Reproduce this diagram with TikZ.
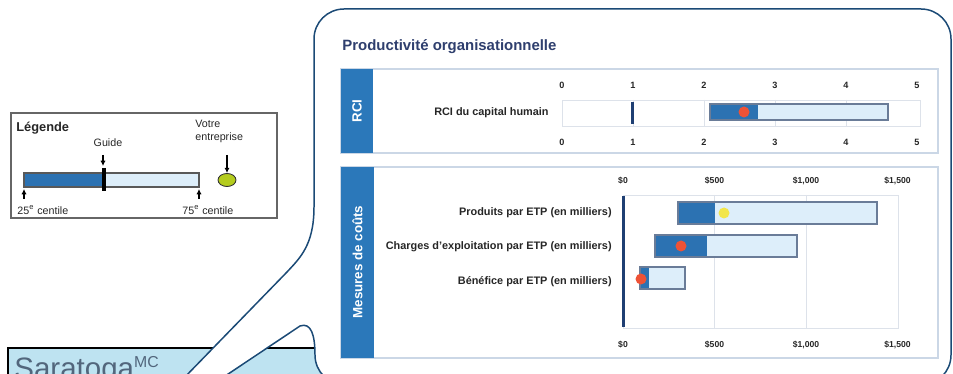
\documentclass[tikz,border=0pt]{standalone}
\usepackage{fontspec}
\setmainfont{Liberation Sans}
\usepackage{tikz}
\usetikzlibrary{arrows.meta,positioning,shapes.geometric}

\definecolor{stripblue}{HTML}{2B78BA}
\definecolor{bardark}{HTML}{2C72B2}
\definecolor{barlight}{HTML}{DDEEFA}
\definecolor{barline}{HTML}{6A7C98}
\definecolor{panelline}{HTML}{CBD7E6}
\definecolor{gridgray}{HTML}{DDE2EA}
\definecolor{navy}{HTML}{1F3F73}
\definecolor{calloutline}{HTML}{1B4A76}
\definecolor{titleblue}{HTML}{2F3F6E}
\definecolor{textdark}{HTML}{262626}
\definecolor{dotred}{HTML}{EE5236}
\definecolor{dotyellow}{HTML}{F2E64A}
\definecolor{dotgreen}{HTML}{B4CC1E}
\definecolor{sarafill}{HTML}{BEE3F1}
\definecolor{saratext}{HTML}{52667C}

\begin{document}
\begin{tikzpicture}[x=0.02cm, y=-0.02cm,
		panel/.style    = {draw=panelline, line width=0.7pt},
		strip/.style    = {fill=stripblue},
		striptext/.style= {text=white, rotate=90, font=\bfseries\fontsize{7.6}{8}\selectfont},
		titletext/.style= {anchor=west, inner sep=0pt, text=titleblue, font=\bfseries\fontsize{8.5}{10}\selectfont},
		rowlabel/.style = {anchor=east, inner sep=0pt, text=textdark, font=\bfseries\fontsize{6.2}{7}\selectfont},
		ticklabel/.style= {inner sep=0pt, text=textdark, font=\bfseries\fontsize{4.9}{6}\selectfont},
		chartline/.style= {draw=gridgray, line width=0.5pt},
		lowbar/.style   = {fill=bardark},
		highbar/.style  = {fill=barlight},
		barframe/.style = {draw=barline, line width=0.8pt},
		guidemark/.style= {draw=navy, line width=1.7pt},
		dot/.style      = {circle, inner sep=0pt, minimum size=0.22cm},
		legtext/.style  = {inner sep=0pt, text=textdark, font=\fontsize{6.1}{7.4}\selectfont},
		legarrow/.style = {-{Latex[length=3pt,width=3pt]}, line width=0.6pt},
		callout/.style  = {draw=calloutline, fill=white, line width=0.85pt},
		>=latex]

		\useasboundingbox (0,0) rectangle (953,374);
		\clip (0,0) rectangle (953,374);

		% Saratoga box, partly under the callout
		\fill[sarafill] (8,348) rectangle (440,420);
		\draw[black, line width=1.7pt] (8,420) -- (8,348) -- (440,348);
		\node[anchor=base west, inner sep=0pt, text=saratext, font=\fontsize{16.8}{18}\selectfont] (sara) at (14,379)
			{Saratoga\raisebox{6.8pt}{\fontsize{9}{9}\selectfont MC}};

		% callout with its tail
		\draw[callout] (314,207) -- (314,39) .. controls (314,22.4) and (327.4,9) .. (344,9)
			-- (921,9) .. controls (937.6,9) and (951,22.4) .. (951,39)
			-- (951,355) .. controls (951,371.6) and (937.6,385) .. (921,385)
			-- (345,385) .. controls (328.4,385) and (315,371.6) .. (315,355)
			.. controls (315,335) and (311,322) .. (300,326)
			-- (113,451) -- (287,272)
			.. controls (300,258) and (314,245) .. (314,207) -- cycle;

		% legend
		\draw[draw=gray!80!black, line width=0.8pt] (11,113) rectangle (277,218);
		\node[anchor=west, inner sep=0pt, text=textdark, font=\bfseries\fontsize{7.3}{8}\selectfont] (leg) at (16,128) {Légende};
		\node[legtext] (guide) at (108,143) {Guide};
		\node[legtext, anchor=west, align=left] (votre) at (195,131) {Votre\\entreprise};
		\fill[bardark] (24,173) rectangle (104,187);
		\fill[barlight] (104,173) rectangle (199,187);
		\draw[draw=gray!70!black, line width=0.6pt] (24,173) rectangle (199,187);
		\draw[black, line width=2.2pt] (104,168) -- (104,191);
		\node[ellipse, draw=black!80, line width=0.5pt, fill=dotgreen, minimum width=0.36cm, minimum height=0.26cm, inner sep=0pt] (firm) at (227,180) {};
		\node[legtext, anchor=west] (p25) at (17,210) {25\textsuperscript{e} centile};
		\node[legtext, anchor=west] (p75) at (182,210) {75\textsuperscript{e} centile};

		\coordinate (g1) at (103,155);   \coordinate (g2) at (103,166);
		\coordinate (v1) at (227,155);
		\coordinate (a1) at (24,199);    \coordinate (a2) at (24,189);
		\coordinate (b1) at (199,199);   \coordinate (b2) at (199,189);
		\draw[legarrow] (g1) -- (g2);
		\draw[legarrow] (v1) -- (firm.north);
		\draw[legarrow] (a1) -- (a2);
		\draw[legarrow] (b1) -- (b2);

		% title of the callout
		\node[titletext] (titre) at (342,47) {Productivité organisationnelle};

		% first panel: RCI
		\draw[panel] (341,69) rectangle (938,153);
		\fill[strip] (341,69) rectangle (373,153);
		\node[striptext] (rci) at (357,111) {RCI};
		\node[rowlabel] (rcih) at (549,113) {RCI du capital humain};

		\draw[chartline] (562,100) rectangle (920,126);
		\foreach \v in {1,...,4}
		\draw[chartline] (562+71*\v,100) -- (562+71*\v,126);
		\foreach \v in {0,...,5} {
			\node[ticklabel, font=\bfseries\fontsize{5.2}{6}\selectfont] (rt\v) at (562+71*\v,85) {\v};
			\node[ticklabel, font=\bfseries\fontsize{5.2}{6}\selectfont] (rb\v) at (562+71*\v,142) {\v};
		}

		\draw[guidemark] (632,102) -- (632,124);
		\fill[lowbar] (710,104) rectangle (758,120);
		\fill[highbar] (758,104) rectangle (888,120);
		\draw[barframe] (710,104) rectangle (888,120);
		\node[dot, fill=dotred] (d0) at (744,112) {};

		% second panel: cost measures
		\draw[panel] (341,167) rectangle (938,358);
		\fill[strip] (341,167) rectangle (374,358);
		\node[striptext] (mesures) at (357.5,262) {Mesures de coûts};
		\node[rowlabel] (r1) at (612,213) {Produits par ETP (en milliers)};
		\node[rowlabel] (r2) at (612,247) {Charges d'exploitation par ETP (en milliers)};
		\node[rowlabel] (r3) at (612,282) {Bénéfice par ETP (en milliers)};

		\draw[chartline] (623,195) rectangle (898,328);
		\foreach \v in {500,1000}
		\draw[chartline] (623+0.183*\v,195) -- (623+0.183*\v,328);
		\foreach \v/\t in {0/\$0,500/\$500,1000/\$1{,}000,1500/\$1{,}500} {
			\node[ticklabel] (ct\v) at (623+0.183*\v,181) {\t};
			\node[ticklabel] (cb\v) at (623+0.183*\v,345) {\t};
		}

		\draw[guidemark] (623,196) -- (623,327);
		\foreach \a/\m/\b/\y in {678/715/877/202, 655/707/797/235, 640/649/685/267} {
			\fill[lowbar] (\a,\y) rectangle (\m,\y+22);
			\fill[highbar] (\m,\y) rectangle (\b,\y+22);
			\draw[barframe] (\a,\y) rectangle (\b,\y+22);
		}
		\node[dot, fill=dotyellow] (d1) at (724,213) {};
		\node[dot, fill=dotred] (d2) at (681,246) {};
		\node[dot, fill=dotred] (d3) at (641,279) {};

	\end{tikzpicture}
\end{document}
